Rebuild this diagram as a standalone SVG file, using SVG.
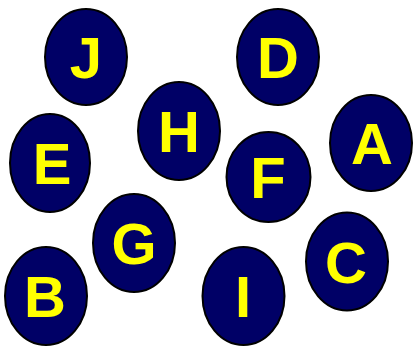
<svg xmlns="http://www.w3.org/2000/svg" width="413" height="347" viewBox="0 0 413 347">
<style>
.n ellipse{fill:#000066;stroke:#000;stroke-width:2}
.n text{fill:#ffff00;font-family:"Liberation Sans",Arial,sans-serif;font-weight:bold;font-size:58px;text-anchor:middle}
</style>
<rect width="413" height="347" fill="#fff"/>
<g id="connectors"/>
<g id="J" class="n"><ellipse cx="86" cy="57" rx="41" ry="48"/><text x="86" y="78">J</text></g>
<g id="D" class="n"><ellipse cx="278" cy="57" rx="41" ry="48"/><text x="278" y="78">D</text></g>
<g id="H" class="n"><ellipse cx="179" cy="131" rx="41" ry="49"/><text x="179" y="152">H</text></g>
<g id="E" class="n"><ellipse cx="50" cy="163" rx="40" ry="49"/><text x="52" y="184">E</text></g>
<g id="A" class="n"><ellipse cx="371" cy="143" rx="41" ry="48"/><text x="372" y="164">A</text></g>
<g id="F" class="n"><ellipse cx="268.5" cy="177" rx="42" ry="45"/><text x="268" y="198">F</text></g>
<g id="G" class="n"><ellipse cx="134" cy="243" rx="41" ry="49"/><text x="134" y="264">G</text></g>
<g id="C" class="n"><ellipse cx="347" cy="261.5" rx="41" ry="49"/><text x="346" y="283">C</text></g>
<g id="B" class="n"><ellipse cx="46" cy="296" rx="41" ry="49"/><text x="45" y="317">B</text></g>
<g id="I" class="n"><ellipse cx="243.5" cy="296" rx="41" ry="49"/><text x="243" y="317">I</text></g>
</svg>
